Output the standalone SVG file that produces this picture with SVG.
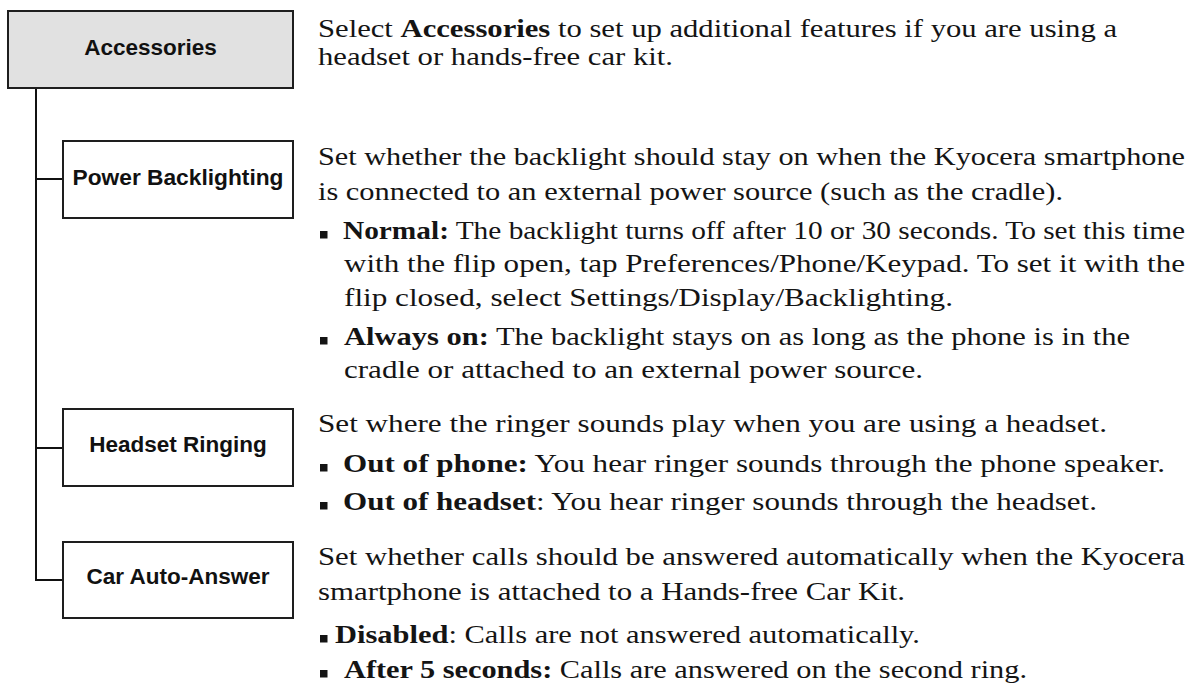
<svg xmlns="http://www.w3.org/2000/svg" width="1195" height="693" viewBox="0 0 1195 693">
<style>
.box{fill:#ffffff;stroke:#1e1e1e;stroke-width:2}
.root{fill:#e1e1e1}
.lbl{font-family:"Liberation Sans",Arial,sans-serif;font-weight:bold;font-size:22.5px;fill:#111;text-anchor:middle}
.conn{fill:none;stroke:#111;stroke-width:2}
.t{font-family:"Liberation Serif","Times New Roman",serif;font-size:25px;fill:#141414}
.b{font-weight:bold}
.bul{fill:#141414}
</style>
<rect width="1195" height="693" fill="#ffffff"/>
<g id="connectors">
<path class="conn" d="M36 88 V580 H63"/>
<path class="conn" d="M36 179 H63"/>
<path class="conn" d="M36 448 H63"/>
</g>
<g id="node-accessories">
<rect class="box root" x="8" y="11" width="285" height="77"/>
<text class="lbl" x="150.5" y="54.5">Accessories</text>
</g>
<g id="node-power-backlighting">
<rect class="box" x="63" y="141" width="230" height="77"/>
<text class="lbl" x="178" y="184.5" textLength="211" lengthAdjust="spacingAndGlyphs">Power Backlighting</text>
</g>
<g id="node-headset-ringing">
<rect class="box" x="63" y="409" width="230" height="77"/>
<text class="lbl" x="178" y="452">Headset Ringing</text>
</g>
<g id="node-car-auto-answer">
<rect class="box" x="63" y="542" width="230" height="76"/>
<text class="lbl" x="178" y="584">Car Auto-Answer</text>
</g>
<g id="desc-accessories">
<text class="t" x="318" y="37" textLength="799" lengthAdjust="spacingAndGlyphs">Select <tspan class="b">Accessories</tspan> to set up additional features if you are using a</text>
<text class="t" x="318" y="65" textLength="355" lengthAdjust="spacingAndGlyphs">headset or hands-free car kit.</text>
</g>
<g id="desc-power-backlighting">
<text class="t" x="318" y="165" textLength="867" lengthAdjust="spacingAndGlyphs">Set whether the backlight should stay on when the Kyocera smartphone</text>
<text class="t" x="318" y="200" textLength="745" lengthAdjust="spacingAndGlyphs">is connected to an external power source (such as the cradle).</text>
<rect class="bul" x="320" y="231" width="7.5" height="7.5"/>
<text class="t" x="343" y="239" textLength="842" lengthAdjust="spacingAndGlyphs"><tspan class="b">Normal:</tspan> The backlight turns off after 10 or 30 seconds. To set this time</text>
<text class="t" x="344" y="272" textLength="841" lengthAdjust="spacingAndGlyphs">with the flip open, tap Preferences/Phone/Keypad. To set it with the</text>
<text class="t" x="344" y="306" textLength="609" lengthAdjust="spacingAndGlyphs">flip closed, select Settings/Display/Backlighting.</text>
<rect class="bul" x="320" y="337" width="7.5" height="7.5"/>
<text class="t" x="344" y="345" textLength="786" lengthAdjust="spacingAndGlyphs"><tspan class="b">Always on:</tspan> The backlight stays on as long as the phone is in the</text>
<text class="t" x="344" y="378" textLength="579" lengthAdjust="spacingAndGlyphs">cradle or attached to an external power source.</text>
</g>
<g id="desc-headset-ringing">
<text class="t" x="318" y="432" textLength="789" lengthAdjust="spacingAndGlyphs">Set where the ringer sounds play when you are using a headset.</text>
<rect class="bul" x="320" y="464" width="7.5" height="7.5"/>
<text class="t" x="343" y="472" textLength="822" lengthAdjust="spacingAndGlyphs"><tspan class="b">Out of phone:</tspan> You hear ringer sounds through the phone speaker.</text>
<rect class="bul" x="320" y="502" width="7.5" height="7.5"/>
<text class="t" x="343" y="510" textLength="754" lengthAdjust="spacingAndGlyphs"><tspan class="b">Out of headset</tspan>: You hear ringer sounds through the headset.</text>
</g>
<g id="desc-car-auto-answer">
<text class="t" x="318" y="565" textLength="867" lengthAdjust="spacingAndGlyphs">Set whether calls should be answered automatically when the Kyocera</text>
<text class="t" x="318" y="600" textLength="587" lengthAdjust="spacingAndGlyphs">smartphone is attached to a Hands-free Car Kit.</text>
<rect class="bul" x="320" y="635" width="7.5" height="7.5"/>
<text class="t" x="335" y="643" textLength="585" lengthAdjust="spacingAndGlyphs"><tspan class="b">Disabled</tspan>: Calls are not answered automatically.</text>
<rect class="bul" x="320" y="670" width="7.5" height="7.5"/>
<text class="t" x="344" y="678" textLength="683" lengthAdjust="spacingAndGlyphs"><tspan class="b">After 5 seconds:</tspan> Calls are answered on the second ring.</text>
</g>
</svg>
